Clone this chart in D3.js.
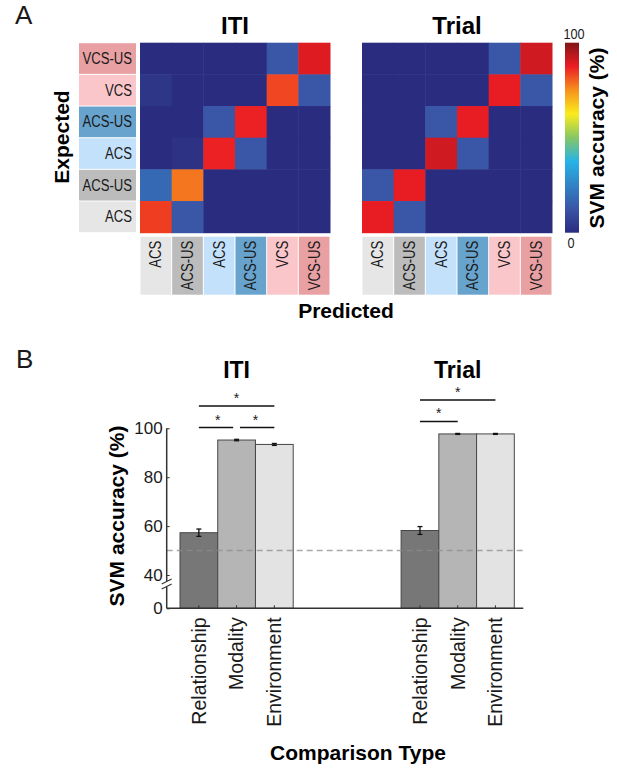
<!doctype html>
<html>
  <head>
    <script src="https://cdnjs.cloudflare.com/ajax/libs/d3/7.8.5/d3.min.js" type="text/JavaScript"></script>
    <style>
      body { margin: 0; background: #fff; }
      text { font-family: "Liberation Sans", Arial, sans-serif; fill: #1a1a1a; }
      .bold { font-weight: bold; fill: #000; }
    </style>
  </head>
  <body>
    <svg width="617" height="769"></svg>
    <script>

      // ---- panel A data ----
      var predictedLabels = ["ACS", "ACS-US", "ACS", "ACS-US", "VCS", "VCS-US"];
      var expectedLabels = ["VCS-US", "VCS", "ACS-US", "ACS", "ACS-US", "ACS"];   // top to bottom
      var classFill = ["#e6e6e6", "#bcbcbc", "#c4e1fb", "#67a3cc", "#fbc6ca", "#e9a0a3"];

      var itiMatrix = [
        [0, 0, 0, 0, 13, 89],
        [3, 0, 0, 0, 83, 13],
        [0, 0, 13, 87, 0, 0],
        [0, 2, 87, 13, 0, 0],
        [18, 78, 0, 0, 0, 0],
        [84, 13, 0, 0, 0, 0]
      ];
      var trialMatrix = [
        [0, 0, 0, 0, 13, 91],
        [0, 0, 0, 0, 88, 13],
        [0, 0, 13, 88, 0, 0],
        [0, 0, 91, 13, 0, 0],
        [13, 88, 0, 0, 0, 0],
        [88, 13, 0, 0, 0, 0]
      ];

      // ---- panel B data ----
      var periods = ["ITI", "Trial"];
      var comparisons = ["Relationship", "Modality", "Environment"];
      var itiMeans = [57.3, 95.2, 93.4];
      var itiErrors = [1.5, 0.3, 0.4];
      var trialMeans = [58.2, 97.7, 97.7];
      var trialErrors = [1.6, 0.2, 0.2];
      var itiSignificance = [[0, 2, 2], [0, 1, 1], [1, 2, 1]];   // [from, to, level]
      var trialSignificance = [[0, 2, 2], [0, 1, 1]];
      var yTicks = [0, 40, 60, 80, 100];
      var chanceLevel = 50;
      var barFill = ["#777777", "#b5b5b5", "#e3e3e3"];

      var svg = d3.select("svg");
      var squeeze = " scale(0.82,1)";   // the source labels use a condensed face

      // jet-like colour map as printed
      var jet = d3.scaleLinear()
        .domain([0, 12.5, 37.5, 50, 62.5, 75, 87.5, 100])
        .range(["#2a2c7f", "#3a54a6", "#27b3e6", "#86c665", "#fbec1c", "#f6921e", "#ec1c24", "#811517"])
        .clamp(true);

      var size = 190;
      var col = d3.scaleBand().domain(d3.range(6)).range([0, size]);
      var row = d3.scaleBand().domain(d3.range(6)).range([0, size]);

      svg.append("text").attr("x", 15).attr("y", 24).style("font-size", "26px").text("A");

      function drawMatrix(matrix, title, x0, y0) {
        var g = svg.append("g").attr("transform", "translate(" + x0 + "," + y0 + ")");
        var cells = [];
        matrix.forEach(function (r, i) { r.forEach(function (v, j) { cells.push({ i: i, j: j, v: v }); }); });
        g.selectAll("rect.cell").data(cells).enter().append("rect")
          .attr("class", "cell")
          .attr("x", d => col(d.j))
          .attr("y", d => row(d.i))
          .attr("width", col.bandwidth() + 0.5)
          .attr("height", row.bandwidth() + 0.5)
          .attr("fill", d => jet(d.v));

        g.append("text").attr("class", "bold")
          .attr("x", size / 2).attr("y", -9)
          .attr("text-anchor", "middle")
          .style("font-size", "24px")
          .text(title);

        // predicted labels underneath
        var lab = g.selectAll("g.pred").data(predictedLabels).enter().append("g")
          .attr("class", "pred")
          .attr("transform", (d, j) => "translate(" + col(j) + "," + (size + 4) + ")");
        lab.append("rect")
          .attr("x", 0.5).attr("width", col.bandwidth() - 1)
          .attr("height", 58)
          .attr("fill", (d, j) => classFill[j]);
        lab.append("text")
          .attr("transform", "translate(" + (col.bandwidth() / 2) + ",4) rotate(-90)" + squeeze)
          .attr("text-anchor", "end")
          .attr("dy", "0.35em")
          .style("font-size", "16px")
          .text(d => d);
        return g;
      }

      var gIti = drawMatrix(itiMatrix, "ITI", 140, 42.7);
      drawMatrix(trialMatrix, "Trial", 362, 42.7);

      // expected labels left of the ITI matrix
      var expFill = expectedLabels.map((d, i) => classFill[5 - i]);
      var el = gIti.selectAll("g.exp").data(expectedLabels).enter().append("g")
        .attr("class", "exp")
        .attr("transform", (d, i) => "translate(-61," + row(i) + ")");
      el.append("rect")
        .attr("y", 0.5).attr("width", 57)
        .attr("height", row.bandwidth() - 1)
        .attr("fill", (d, i) => expFill[i]);
      el.append("text")
        .attr("transform", "translate(53," + (row.bandwidth() / 2) + ")" + squeeze)
        .attr("dy", "0.35em")
        .attr("text-anchor", "end")
        .style("font-size", "16px")
        .text(d => d);

      svg.append("text").attr("class", "bold")
        .attr("transform", "translate(62,137) rotate(-90)")
        .attr("text-anchor", "middle").attr("dy", "0.35em")
        .style("font-size", "21px")
        .text("Expected");

      svg.append("text").attr("class", "bold")
        .attr("x", 346).attr("y", 318)
        .attr("text-anchor", "middle")
        .style("font-size", "21px")
        .text("Predicted");

      // colour bar
      var cbY = d3.scaleLinear().domain([0, 100]).range([232.7, 42.7]);
      var grad = svg.append("defs").append("linearGradient")
        .attr("id", "jet").attr("x1", 0).attr("y1", 1).attr("x2", 0).attr("y2", 0);
      grad.selectAll("stop").data(d3.range(0, 101, 2.5)).enter().append("stop")
        .attr("offset", d => d + "%")
        .attr("stop-color", d => jet(d));
      svg.append("rect")
        .attr("x", 565).attr("y", cbY(100))
        .attr("width", 14).attr("height", cbY(0) - cbY(100))
        .attr("fill", "url(#jet)");
      svg.append("text")
        .attr("transform", "translate(574," + (cbY(100) - 4) + ")" + squeeze)
        .attr("text-anchor", "middle")
        .style("font-size", "15.5px")
        .text("100");
      svg.append("text")
        .attr("transform", "translate(571," + (cbY(0) + 15) + ")" + squeeze)
        .attr("text-anchor", "middle")
        .style("font-size", "15.5px")
        .text("0");
      svg.append("text").attr("class", "bold")
        .attr("transform", "translate(597,138) rotate(-90)")
        .attr("text-anchor", "middle").attr("dy", "0.35em")
        .style("font-size", "21px")
        .text("SVM accuracy (%)");

      // ---- panel B ----
      svg.append("text").attr("x", 16).attr("y", 368).style("font-size", "26px").text("B");

      var axisLeft = 166.7, axisRight = 523.3;
      var y = d3.scaleLinear().domain([0, 40, 100]).range([608.3, 575, 428.3]);
      var groupX = d3.scaleBand().domain(periods).range([180, 514.3]).paddingInner(0.488);
      var barX = d3.scaleBand().domain(comparisons).range([0, groupX.bandwidth()]);

      var series = [
        { period: "ITI", means: itiMeans, errors: itiErrors, sig: itiSignificance },
        { period: "Trial", means: trialMeans, errors: trialErrors, sig: trialSignificance }
      ];

      var gB = svg.append("g");

      series.forEach(function (s) {
        var gx = groupX(s.period);
        var bars = comparisons.map((c, k) => ({ c: c, k: k, m: s.means[k], e: s.errors[k] }));
        var cx = k => gx + barX(comparisons[k]) + barX.bandwidth() / 2;

        gB.selectAll(null).data(bars).enter().append("rect")
          .attr("x", d => gx + barX(d.c))
          .attr("y", d => y(d.m))
          .attr("width", barX.bandwidth())
          .attr("height", d => y(0) - y(d.m))
          .attr("fill", d => barFill[d.k])
          .attr("stroke", "#474747")
          .attr("stroke-width", 1);

        // error bars
        var eb = gB.selectAll(null).data(bars).enter().append("g").attr("stroke", "#111").attr("stroke-width", 1.3);
        eb.append("line").attr("x1", d => cx(d.k)).attr("x2", d => cx(d.k))
          .attr("y1", d => y(d.m + d.e)).attr("y2", d => y(d.m - d.e));
        eb.append("line").attr("x1", d => cx(d.k) - 2.5).attr("x2", d => cx(d.k) + 2.5)
          .attr("y1", d => y(d.m + d.e)).attr("y2", d => y(d.m + d.e));
        eb.append("line").attr("x1", d => cx(d.k) - 2.5).attr("x2", d => cx(d.k) + 2.5)
          .attr("y1", d => y(d.m - d.e)).attr("y2", d => y(d.m - d.e));

        // x tick marks and labels
        gB.selectAll(null).data(bars).enter().append("line")
          .attr("x1", d => cx(d.k)).attr("x2", d => cx(d.k))
          .attr("y1", y(0)).attr("y2", y(0) - 3)
          .attr("stroke", "#333").attr("stroke-width", 1);
        gB.selectAll(null).data(bars).enter().append("text")
          .attr("transform", d => "translate(" + cx(d.k) + "," + (y(0) + 9) + ") rotate(-90)")
          .attr("text-anchor", "end").attr("dy", "0.35em")
          .style("font-size", "19.5px")
          .text(d => d.c);

        // title
        gB.append("text").attr("class", "bold")
          .attr("x", cx(1)).attr("y", 378)
          .attr("text-anchor", "middle")
          .style("font-size", "23px")
          .text(s.period);

        // significance brackets
        var top = y(d3.max(s.means));
        s.sig.forEach(function (p) {
          var ly = top - 12.5 - (p[2] - 1) * 21.5;
          var shared = s.sig.filter(q => q !== p && q[2] === p[2]);
          var x1 = cx(p[0]), x2 = cx(p[1]);
          if (shared.some(q => q[0] === p[1] || q[1] === p[1])) x2 -= 3.4;
          if (shared.some(q => q[0] === p[0] || q[1] === p[0])) x1 += 3.4;
          gB.append("line").attr("x1", x1).attr("x2", x2).attr("y1", ly).attr("y2", ly)
            .attr("stroke", "#111").attr("stroke-width", 1.5);
          gB.append("text")
            .attr("x", (cx(p[0]) + cx(p[1])) / 2).attr("y", ly - 3)
            .attr("text-anchor", "middle")
            .style("font-size", "14px")
            .text("*");
        });
      });

      // chance line
      gB.append("line")
        .attr("x1", axisLeft).attr("x2", axisRight + 2)
        .attr("y1", y(chanceLevel)).attr("y2", y(chanceLevel))
        .attr("stroke", "#8c8c8c").attr("stroke-opacity", 0.75)
        .attr("stroke-width", 1.5).attr("stroke-dasharray", "6,4");

      // y axis
      var yAxis = gB.append("g")
        .attr("transform", "translate(" + axisLeft + ",0)")
        .call(d3.axisLeft(y).tickValues(yTicks).tickSize(-3).tickPadding(4));
      yAxis.select(".domain").remove();
      yAxis.selectAll(".tick line").attr("stroke", "#333");
      yAxis.selectAll(".tick text")
        .style("font-size", "17px")
        .style("font-family", "'Liberation Sans', Arial, sans-serif")
        .attr("fill", "#222");

      var breakY = y(40) + 9;
      gB.append("line").attr("x1", axisLeft).attr("x2", axisLeft)
        .attr("y1", y(100)).attr("y2", breakY - 3)
        .attr("stroke", "#333").attr("stroke-width", 1.5);
      gB.append("line").attr("x1", axisLeft).attr("x2", axisLeft)
        .attr("y1", breakY + 3).attr("y2", y(0))
        .attr("stroke", "#333").attr("stroke-width", 1.5);
      [-2.5, 2.5].forEach(function (o) {
        gB.append("line")
          .attr("x1", axisLeft - 5).attr("x2", axisLeft + 5)
          .attr("y1", breakY + o + 2.5).attr("y2", breakY + o - 2.5)
          .attr("stroke", "#333").attr("stroke-width", 1.2);
      });

      // x axis line
      gB.append("line").attr("x1", axisLeft).attr("x2", axisRight)
        .attr("y1", y(0)).attr("y2", y(0))
        .attr("stroke", "#333").attr("stroke-width", 1.5);

      svg.append("text").attr("class", "bold")
        .attr("transform", "translate(117,516) rotate(-90)")
        .attr("text-anchor", "middle").attr("dy", "0.35em")
        .style("font-size", "21px")
        .text("SVM accuracy (%)");

      svg.append("text").attr("class", "bold")
        .attr("x", 358).attr("y", 760)
        .attr("text-anchor", "middle")
        .style("font-size", "21px")
        .text("Comparison Type");

    </script>
  </body>
</html>
